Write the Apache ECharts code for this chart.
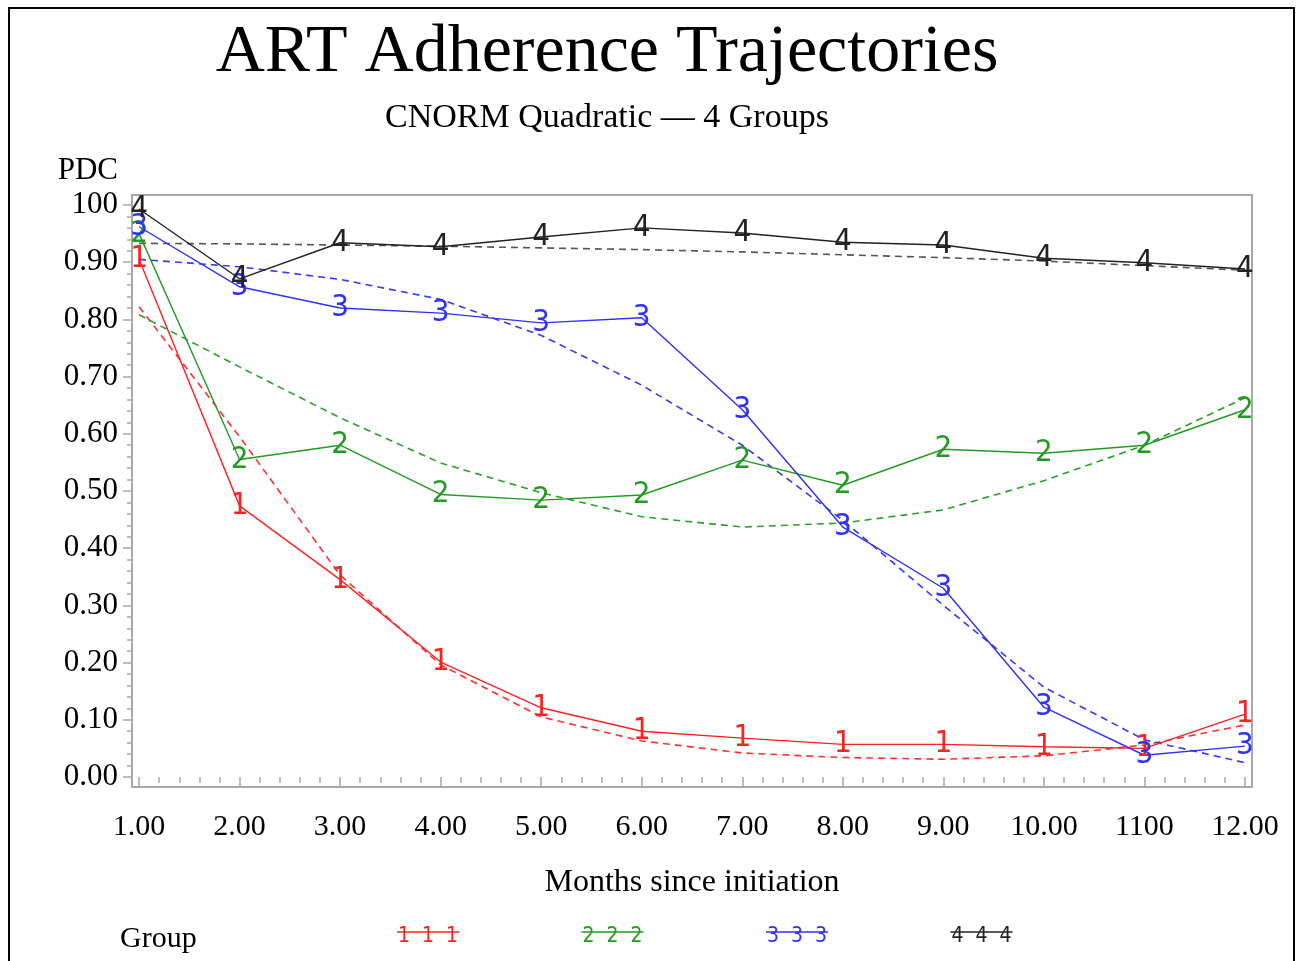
<!DOCTYPE html>
<html>
<head>
<meta charset="utf-8">
<script src="https://cdn.jsdelivr.net/npm/echarts@6/dist/echarts.min.js"></script>
<style>
  html, body { margin: 0; padding: 0; background: #fff; overflow: hidden; }
  .frame { position: absolute; left: 8px; top: 7px; width: 1283px; height: 1000px; border: 2px solid #000; }
  #chart { position: absolute; left: 0; top: 0; width: 1296px; height: 961px; }
</style>
</head>
<body>
<div class="frame"></div>
<div id="chart"></div>
<script>
  // months since initiation
  var months = [1, 2, 3, 4, 5, 6, 7, 8, 9, 10, 11, 12]
  var xTicks = [1, 2, 3, 4, 5, 6, 7, 8, 9, 10, 11, 12]
  var xTickLabels = ['1.00', '2.00', '3.00', '4.00', '5.00', '6.00', '7.00', '8.00', '9.00', '10.00', '1100', '12.00']
  var yTicks = [0, 0.1, 0.2, 0.3, 0.4, 0.5, 0.6, 0.7, 0.8, 0.9, 1.0]
  var yTickLabels = ['0.00', '0.10', '0.20', '0.30', '0.40', '0.50', '0.60', '0.70', '0.80', '0.90', '100']

  // observed PDC (solid) and fitted quadratic (dashed), per group
  var group1Obs = [0.905, 0.474, 0.345, 0.201, 0.121, 0.080, 0.068, 0.057, 0.057, 0.053, 0.050, 0.110]
  var group1Fit = [0.822, 0.595, 0.353, 0.196, 0.105, 0.063, 0.042, 0.034, 0.031, 0.037, 0.056, 0.091]
  var group2Obs = [0.950, 0.555, 0.580, 0.494, 0.484, 0.493, 0.554, 0.510, 0.573, 0.566, 0.580, 0.642]
  var group2Fit = [0.808, 0.717, 0.628, 0.549, 0.497, 0.455, 0.437, 0.444, 0.467, 0.518, 0.580, 0.663]
  var group3Obs = [0.962, 0.857, 0.820, 0.811, 0.794, 0.803, 0.642, 0.437, 0.330, 0.122, 0.038, 0.054]
  var group3Fit = [0.905, 0.892, 0.870, 0.835, 0.772, 0.685, 0.580, 0.449, 0.300, 0.157, 0.065, 0.025]
  var group4Obs = [0.993, 0.871, 0.934, 0.927, 0.944, 0.960, 0.951, 0.935, 0.930, 0.907, 0.899, 0.888]
  var group4Fit = [0.933, 0.932, 0.930, 0.928, 0.925, 0.922, 0.918, 0.913, 0.908, 0.902, 0.894, 0.886]

  var groupNames = ['1', '2', '3', '4']
  var groupColors = ['#ff2020', '#239a23', '#3030ff', '#222222']
  var fitColors = ['#ff3030', '#2aa02a', '#3838ff', '#555555']
  var observed = [group1Obs, group2Obs, group3Obs, group4Obs]
  var fitted = [group1Fit, group2Fit, group3Fit, group4Fit]

  var serif = "'Liberation Serif', 'DejaVu Serif', serif"
  var markFont = "'Liberation Sans Narrow', 'DejaVu Sans Condensed', 'DejaVu Sans', sans-serif"
  var axisGray = '#a8a8a8'

  function pairs(vals) {
    return months.map(function(m, i) { return [m, vals[i]] })
  }
  function lookup(ticks, labels, v) {
    for (var i = 0; i < ticks.length; i++) {
      if (Math.abs(ticks[i] - v) < 1e-6) return labels[i]
    }
    return ''
  }
  // minor ticks: 4 between each pair of major ticks
  function minorOf(ticks) {
    var out = []
    for (var i = 0; i < ticks.length - 1; i++) {
      var step = (ticks[i + 1] - ticks[i]) / 5
      for (var k = 1; k < 5; k++) out.push(ticks[i] + step * k)
    }
    return out
  }

  var series = []
  groupNames.forEach(function(g, i) {
    series.push({
      name: 'Group ' + g + ' fit',
      type: 'line',
      data: pairs(fitted[i]),
      symbol: 'none',
      lineStyle: { color: fitColors[i], width: 1.6, type: [7, 5] },
      emphasis: { disabled: true },
      z: 2
    })
  })
  groupNames.forEach(function(g, i) {
    series.push({
      name: 'Group ' + g,
      type: 'line',
      data: pairs(observed[i]),
      symbol: 'circle',
      symbolSize: 1,
      itemStyle: { color: 'rgba(0,0,0,0)' },
      lineStyle: { color: groupColors[i], width: 1.4 },
      label: {
        show: true,
        position: 'inside',
        formatter: g,
        color: groupColors[i],
        fontSize: 31,
        fontFamily: markFont
      },
      emphasis: { disabled: true },
      z: 3
    })
  })

  // bottom legend: a short line with the group digit three times
  var legendItems = [{
    type: 'text', left: 120, top: 924,
    style: { text: 'Group', font: '30px ' + serif, fill: '#000' }
  }]
  groupNames.forEach(function(g, i) {
    var cx = 428 + i * 184.5
    legendItems.push({
      type: 'line',
      shape: { x1: cx - 31, y1: 932, x2: cx + 31, y2: 932 },
      style: { stroke: groupColors[i], lineWidth: 1.5 }
    })
    ;[-24, 0, 24].forEach(function(dx) {
      legendItems.push({
        type: 'text', x: cx + dx, y: 937,
        style: { text: g, font: '21px ' + markFont, fill: groupColors[i], align: 'center', verticalAlign: 'middle' }
      })
    })
  })

  var chart = echarts.init(document.getElementById('chart'))
  chart.setOption({
    animation: false,
    backgroundColor: 'transparent',
    title: {
      text: 'ART Adherence Trajectories',
      subtext: 'CNORM Quadratic \u2014 4 Groups',
      left: 602,
      top: 14,
      textAlign: 'center',
      itemGap: 14,
      textStyle: { fontFamily: serif, fontSize: 68, fontWeight: 'normal', color: '#000' },
      subtextStyle: { fontFamily: serif, fontSize: 34, color: '#000' }
    },
    grid: {
      left: 132,
      right: 44,
      top: 195,
      bottom: 174,
      show: true,
      borderColor: axisGray,
      borderWidth: 2,
      backgroundColor: 'transparent'
    },
    xAxis: [{
      type: 'value',
      min: 0.93,
      max: 12.07,
      axisLine: { show: false },
      axisTick: { show: true, customValues: xTicks, length: 10, lineStyle: { color: axisGray, width: 1.5 } },
      axisLabel: {
        customValues: xTicks,
        formatter: function(v) { return lookup(xTicks, xTickLabels, v) },
        fontFamily: serif, fontSize: 30, color: '#000', margin: 25
      },
      splitLine: { show: false },
      name: 'Months since initiation',
      nameLocation: 'middle',
      nameGap: 80,
      nameTextStyle: { fontFamily: serif, fontSize: 32, color: '#000' }
    }, {
      type: 'value',
      min: 0.93,
      max: 12.07,
      position: 'bottom',
      axisLine: { show: false },
      axisTick: { show: true, customValues: minorOf(xTicks), length: 6, lineStyle: { color: axisGray, width: 1.5 } },
      axisLabel: { show: false },
      splitLine: { show: false }
    }],
    yAxis: [{
      type: 'value',
      min: -0.0175,
      max: 1.0175,
      axisLine: { show: false },
      axisTick: { show: true, customValues: yTicks, length: 9, lineStyle: { color: axisGray, width: 1.5 } },
      axisLabel: {
        customValues: yTicks,
        formatter: function(v) { return lookup(yTicks, yTickLabels, v) },
        fontFamily: serif, fontSize: 31, color: '#000', margin: 14
      },
      splitLine: { show: false },
      name: 'PDC',
      nameLocation: 'end',
      nameGap: 9,
      nameTextStyle: { fontFamily: serif, fontSize: 31, color: '#000', align: 'right', padding: [0, 14, 0, 0] }
    }, {
      type: 'value',
      min: -0.0175,
      max: 1.0175,
      position: 'left',
      axisLine: { show: false },
      axisTick: { show: true, customValues: minorOf(yTicks), length: 5, lineStyle: { color: axisGray, width: 1.5 } },
      axisLabel: { show: false },
      splitLine: { show: false }
    }],
    graphic: legendItems,
    series: series
  })
</script>
</body>
</html>
